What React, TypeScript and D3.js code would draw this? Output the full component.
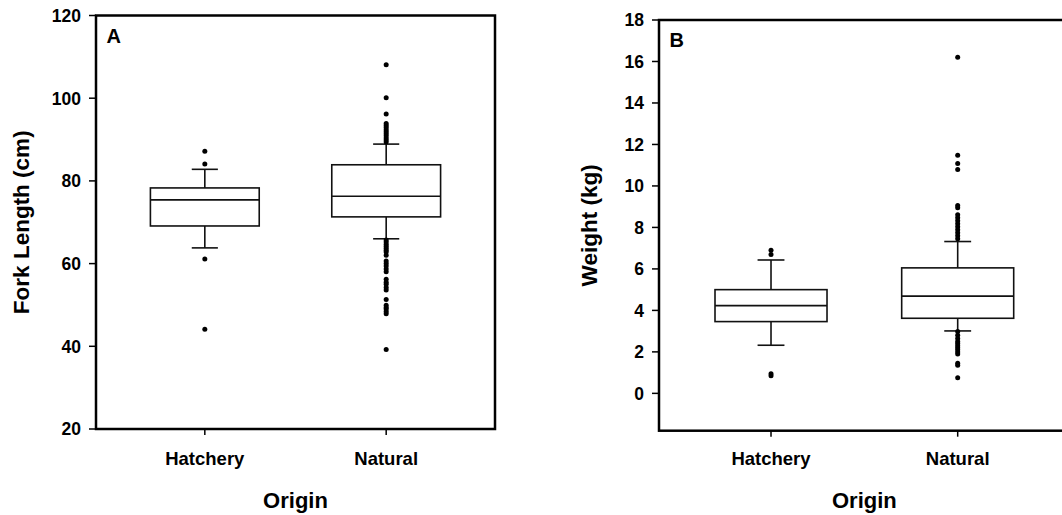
import React from "react";
import * as d3 from "d3";

// Origin groups
const categories = ["Hatchery", "Natural"];

// Fork length (cm) box statistics per origin
const forkLowWhisker = [63.8, 66.0];
const forkQ1 = [69.1, 71.3];
const forkMedian = [75.4, 76.3];
const forkQ3 = [78.3, 83.9];
const forkHighWhisker = [82.8, 88.9];
const forkOutliersHatchery = [87.2, 84.1, 61.1, 44.1];
const forkOutliersNatural = [
  108.1, 100.1, 96.2, 93.9, 93.4, 92.9, 92.4, 91.9, 91.4, 90.9, 90.4, 89.9, 89.4,
  65.7, 65.2, 64.7, 64.2, 63.7, 63.2, 62.8, 62.0, 60.6, 60.0, 59.4, 58.7, 58.0,
  56.2, 55.5, 55.0, 54.2, 53.6, 51.3, 49.9, 49.4, 49.0, 48.4, 47.9, 39.2,
];
const forkTicks = [20, 40, 60, 80, 100, 120];

// Weight (kg) box statistics per origin
const weightLowWhisker = [2.32, 3.01];
const weightQ1 = [3.46, 3.62];
const weightMedian = [4.23, 4.69];
const weightQ3 = [5.0, 6.05];
const weightHighWhisker = [6.43, 7.32];
const weightOutliersHatchery = [6.9, 6.7, 0.95, 0.85];
const weightOutliersNatural = [
  16.2, 11.48, 11.08, 10.79, 9.06, 8.95, 8.61, 8.47, 8.32, 8.18, 8.03, 7.89, 7.74,
  7.6, 7.45, 2.98, 2.8, 2.65, 2.5, 2.4, 2.3, 2.2, 2.1, 2.0, 1.9, 1.45, 1.35, 0.75,
];
const weightTicks = [0, 2, 4, 6, 8, 10, 12, 14, 16, 18];

const FONT = "'Liberation Sans', Arial, Helvetica, sans-serif";

type PanelProps = {
  letter: string;
  yTitle: string;
  left: number;
  right: number;
  top: number;
  bottom: number;
  yDomain: [number, number];
  ticks: number[];
  lowWhisker: number[];
  q1: number[];
  median: number[];
  q3: number[];
  highWhisker: number[];
  outliers: number[][];
  titleX: number;
};

function Panel(p: PanelProps) {
  const x = d3.scaleLinear().domain([0.4, 2.6]).range([p.left, p.right]);
  const y = d3.scaleLinear().domain(p.yDomain).range([p.bottom, p.top]);
  const boxHalf = 0.3;
  const capHalf = 0.072;
  const stroke = "#111";
  const midX = (p.left + p.right) / 2;
  const midY = (p.top + p.bottom) / 2;

  return (
    <g>
      {/* y ticks and labels */}
      {p.ticks.map((t) => (
        <g key={t}>
          <line x1={p.left - 7} x2={p.left} y1={y(t)} y2={y(t)} stroke="#000" strokeWidth={1.5} />
          <text
            x={p.left - 15}
            y={y(t)}
            dy="0.36em"
            textAnchor="end"
            fontFamily={FONT}
            fontWeight="bold"
            fontSize={17.5}
          >
            {t}
          </text>
        </g>
      ))}

      {/* x ticks and category labels */}
      {categories.map((c, i) => (
        <g key={c}>
          <line x1={x(i + 1)} x2={x(i + 1)} y1={p.bottom} y2={p.bottom + 6} stroke="#000" strokeWidth={1.5} />
          <text
            x={x(i + 1)}
            y={465}
            textAnchor="middle"
            fontFamily={FONT}
            fontWeight="bold"
            fontSize={18.5}
          >
            {c}
          </text>
        </g>
      ))}

      {/* boxes */}
      {categories.map((c, i) => {
        const cx = x(i + 1);
        const bx0 = x(i + 1 - boxHalf);
        const bx1 = x(i + 1 + boxHalf);
        const cx0 = x(i + 1 - capHalf);
        const cx1 = x(i + 1 + capHalf);
        return (
          <g key={c} stroke={stroke} strokeWidth={1.6} fill="none">
            <line x1={cx} x2={cx} y1={y(p.highWhisker[i])} y2={y(p.q3[i])} />
            <line x1={cx} x2={cx} y1={y(p.q1[i])} y2={y(p.lowWhisker[i])} />
            <line x1={cx0} x2={cx1} y1={y(p.highWhisker[i])} y2={y(p.highWhisker[i])} />
            <line x1={cx0} x2={cx1} y1={y(p.lowWhisker[i])} y2={y(p.lowWhisker[i])} />
            <rect x={bx0} y={y(p.q3[i])} width={bx1 - bx0} height={y(p.q1[i]) - y(p.q3[i])} fill="#fff" />
            <line x1={bx0} x2={bx1} y1={y(p.median[i])} y2={y(p.median[i])} />
            {p.outliers[i].map((v, k) => (
              <circle key={k} cx={cx} cy={y(v)} r={2.5} fill="#000" stroke="none" />
            ))}
          </g>
        );
      })}

      {/* frame */}
      <rect
        x={p.left}
        y={p.top}
        width={p.right - p.left}
        height={p.bottom - p.top}
        fill="none"
        stroke="#000"
        strokeWidth={2.5}
      />

      <text
        x={p.left + 10.5}
        y={p.top + 27}
        fontFamily={FONT}
        fontWeight="bold"
        fontSize={20}
      >
        {p.letter}
      </text>

      <text
        transform={`translate(${p.titleX},${midY}) rotate(-90)`}
        textAnchor="middle"
        fontFamily={FONT}
        fontWeight="bold"
        fontSize={22.5}
      >
        {p.yTitle}
      </text>

      <text x={midX} y={508} textAnchor="middle" fontFamily={FONT} fontWeight="bold" fontSize={22}>
        Origin
      </text>
    </g>
  );
}

export default function App() {
  return (
    <svg
      width={1062}
      height={515}
      style={{ position: "absolute", left: 0, top: 0, background: "#fff" }}
    >
      <rect x={0} y={0} width={1062} height={515} fill="#fff" />
      <Panel
        letter="A"
        yTitle="Fork Length (cm)"
        left={96}
        right={495}
        top={15.5}
        bottom={429}
        yDomain={[20, 120]}
        ticks={forkTicks}
        lowWhisker={forkLowWhisker}
        q1={forkQ1}
        median={forkMedian}
        q3={forkQ3}
        highWhisker={forkHighWhisker}
        outliers={[forkOutliersHatchery, forkOutliersNatural]}
        titleX={28.5}
      />
      <Panel
        letter="B"
        yTitle="Weight (kg)"
        left={659}
        right={1069.7}
        top={20}
        bottom={430.7}
        yDomain={[-1.8, 18]}
        ticks={weightTicks}
        lowWhisker={weightLowWhisker}
        q1={weightQ1}
        median={weightMedian}
        q3={weightQ3}
        highWhisker={weightHighWhisker}
        outliers={[weightOutliersHatchery, weightOutliersNatural]}
        titleX={597}
      />
    </svg>
  );
}
